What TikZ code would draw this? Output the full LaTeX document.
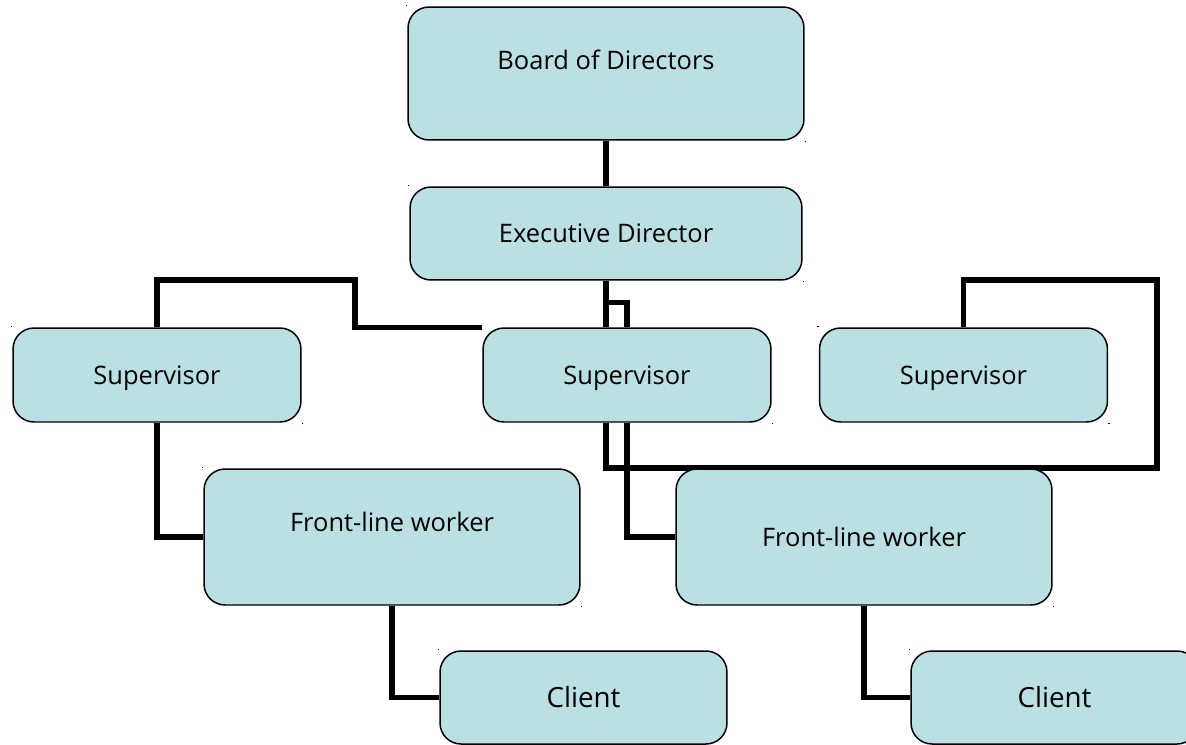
\documentclass[tikz,border=0pt]{standalone}
\usepackage{fontspec}
\setmainfont{Open Sans}
\usetikzlibrary{positioning, backgrounds, calc}
\definecolor{boxTeal}{RGB}{187,224,227}
\tikzset{
  org/box/.style={rectangle, rounded corners=0.42cm, draw=black, fill=boxTeal,
    line width=0.85pt, font=\fontsize{14.5}{17}\selectfont, align=center,
    inner sep=0pt, text height=10.4pt, text depth=0pt},
  org/client/.style={org/box, font=\fontsize{15.8}{19}\selectfont,
    text height=11.3pt},
  org/lbl/.style={font=\fontsize{14.5}{17}\selectfont, inner sep=0pt,
    text height=10.4pt, text depth=0pt},
  org/link/.style={line width=2.9pt, draw=black},
  org/dot/.style={fill=black}
}

\begin{document}
\begin{tikzpicture}[x=0.02cm, y=-0.02cm]
    \useasboundingbox (0,0) rectangle (1186,744);
    \clip (0,0) rectangle (1186,744);

    % boxes of the chart
    \node[org/box, minimum width=7.92cm, minimum height=2.66cm,
      label={[org/lbl, yshift=0.27cm]center:Board of Directors}] (board) at (606,73.5) {};
    \node[org/box, minimum width=7.84cm, minimum height=1.86cm] (exec) at (606,233.5) {Executive Director};
    \node[org/box, minimum width=5.76cm, minimum height=1.88cm] (sup1) at (157,375) {Supervisor};
    \node[org/box, minimum width=5.76cm, minimum height=1.88cm] (sup2) at (627,375) {Supervisor};
    \node[org/box, minimum width=5.76cm, minimum height=1.88cm] (sup3) at (963.5,375) {Supervisor};
    \node[org/box, minimum width=7.52cm, minimum height=2.72cm,
      label={[org/lbl, yshift=0.3cm]center:Front-line worker}] (flw1) at (392,537) {};
    \node[org/box, minimum width=7.52cm, minimum height=2.72cm] (flw2) at (864,537) {Front-line worker};
    \node[org/client, minimum width=5.74cm, minimum height=1.86cm] (client1) at (583.5,697.5) {Client};
    \node[org/client, minimum width=5.74cm, minimum height=1.86cm] (client2) at (1054.5,697.5) {Client};

    % corner marks
    \foreach \n in {board, exec, sup1, sup2, sup3, flw1, flw2, client1, client2} {
      \fill[org/dot] (\n.north west) rectangle +(-1.5,-1.5);
      \fill[org/dot] (\n.south east) rectangle +(1.5,1.5);
    }

    % connectors
    \begin{scope}[on background layer]
      \draw[org/link] (board) -- (exec);
      \draw[org/link] (exec.south) -- (exec.south |- sup2.north);
      \draw[org/link] ($(exec.south)+(0,22)$) -| (sup2.north);
      \draw[org/link] (sup1.north) |- (355,280) |- (sup2.north west);
      \draw[org/link] (sup3.north) |- (1157,280) |- (606,468) -- (exec.south |- sup2.south);
      \draw[org/link] (sup2.south) |- (flw2.west);
      \draw[org/link] (sup1.south) |- (flw1.west);
      \draw[org/link] (flw1.south) |- (client1.west);
      \draw[org/link] (flw2.south) |- (client2.west);
    \end{scope}
  \end{tikzpicture}
\end{document}
